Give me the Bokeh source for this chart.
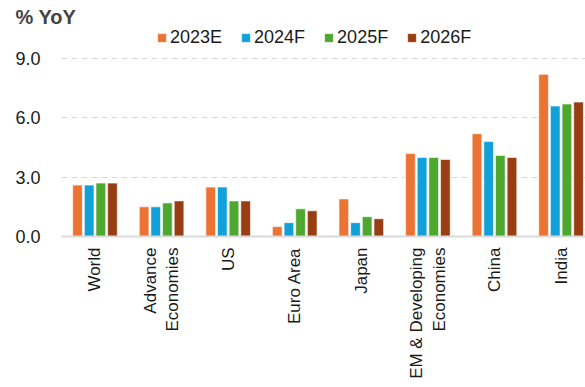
import math
from bokeh.plotting import figure
from bokeh.models import ColumnDataSource, Range1d, FixedTicker, Legend, LegendItem
from bokeh.transform import dodge
from bokeh.embed import file_html
from bokeh.resources import INLINE

categories = ["World", "Advance\nEconomies", "US", "Euro Area", "Japan",
              "EM & Developing\nEconomies", "China", "India"]
series = ["2023E", "2024F", "2025F", "2026F"]
v2023 = [2.6, 1.5, 2.5, 0.5, 1.9, 4.2, 5.2, 8.2]
v2024 = [2.6, 1.5, 2.5, 0.7, 0.7, 4.0, 4.8, 6.6]
v2025 = [2.7, 1.7, 1.8, 1.4, 1.0, 4.0, 4.1, 6.7]
v2026 = [2.7, 1.8, 1.8, 1.3, 0.9, 3.9, 4.0, 6.8]
y_ticks = [0, 3, 6, 9]
y_tick_labels = ["0.0", "3.0", "6.0", "9.0"]

colors = ["#EB7333", "#12A0D8", "#4EA72E", "#983E12"]
FONT = "Liberation Sans"

xpos = list(range(len(categories)))
source = ColumnDataSource(dict(x=xpos, v2023=v2023, v2024=v2024, v2025=v2025, v2026=v2026))

p = figure(width=585, height=387, output_backend="svg", toolbar_location=None,
           x_range=Range1d(-0.503, 7.367), y_range=Range1d(0, 10.52))
p.min_border_left = 61
p.min_border_right = 0
p.min_border_top = 28
p.min_border_bottom = 151
p.outline_line_color = None
p.background_fill_color = "white"
p.border_fill_color = "white"

bar_w = 0.145
step = 0.175
offsets = [-1.5 * step, -0.5 * step, 0.5 * step, 1.5 * step]
cols = ["v2023", "v2024", "v2025", "v2026"]
renderers = []
for col, off, c in zip(cols, offsets, colors):
    r = p.vbar(x=dodge("x", off), top=col, width=bar_w, bottom=0, source=source,
               fill_color=c, line_color="white", line_alpha=0.6, line_width=1)
    renderers.append(r)

legend = Legend(items=[LegendItem(label=s, renderers=[r]) for s, r in zip(series, renderers)],
                orientation="horizontal", location=(95, 188))
legend.border_line_color = None
legend.background_fill_alpha = 0
legend.padding = 0
legend.margin = 0
legend.glyph_width = 11
legend.glyph_height = 11
legend.label_standoff = 3
legend.spacing = 18
legend.label_text_font = FONT
legend.label_text_font_size = "18px"
legend.label_text_color = "#1a1a1a"
p.add_layout(legend, "center")

p.title.text = "% YoY"
p.title.text_font = FONT
p.title.text_font_size = "20px"
p.title.text_font_style = "bold"
p.title.align = "left"
p.title.offset = -46
p.title.standoff = 2

p.yaxis.ticker = FixedTicker(ticks=y_ticks)
p.yaxis.major_label_overrides = {t: l for t, l in zip(y_ticks, y_tick_labels)}
p.yaxis.axis_line_color = None
p.yaxis.major_tick_line_color = None
p.yaxis.minor_tick_line_color = None
p.yaxis.major_label_standoff = 15
p.yaxis.major_label_text_font = FONT
p.yaxis.major_label_text_font_size = "18px"
p.yaxis.major_label_text_color = "#1a1a1a"

p.xaxis.ticker = FixedTicker(ticks=xpos)
p.xaxis.major_label_overrides = {i: c for i, c in zip(xpos, categories)}
p.xaxis.major_label_orientation = math.pi / 2
p.xaxis.axis_line_color = "#D9D9D9"
p.xaxis.axis_line_width = 2
p.xaxis.major_tick_line_color = None
p.xaxis.minor_tick_line_color = None
p.xaxis.major_label_standoff = 5
p.xaxis.major_label_text_font = FONT
p.xaxis.major_label_text_font_size = "17px"
p.xaxis.major_label_text_color = "#1a1a1a"

p.xgrid.grid_line_color = None
p.ygrid.ticker = FixedTicker(ticks=[3, 6, 9])
p.ygrid.grid_line_color = "#D9D9D9"
p.ygrid.grid_line_dash = "6 4"
p.ygrid.grid_line_width = 1

open("out.html", "w").write(file_html(p, INLINE))
